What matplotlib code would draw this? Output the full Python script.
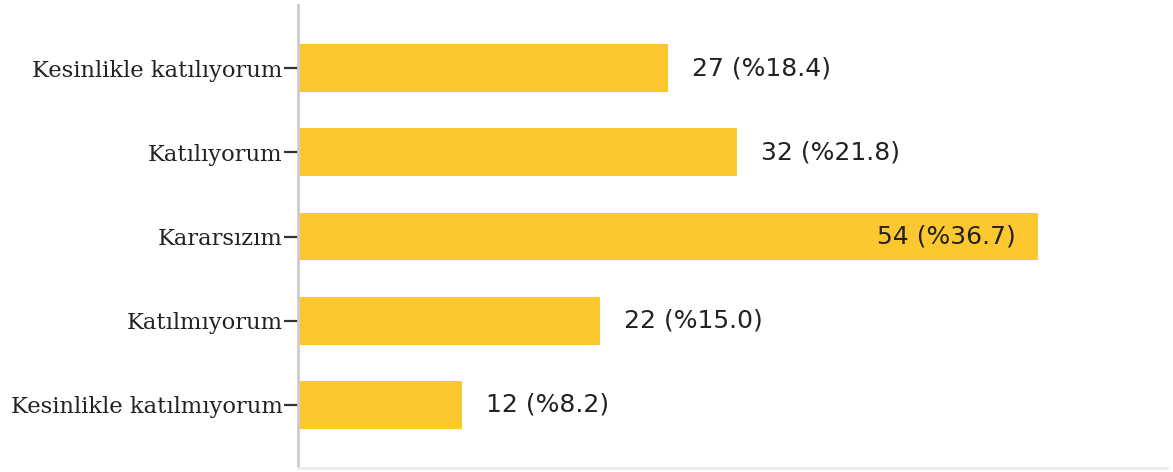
import matplotlib.pyplot as plt

categories = [
    "Kesinlikle katılıyorum",
    "Katılıyorum",
    "Kararsızım",
    "Katılmıyorum",
    "Kesinlikle katılmıyorum",
]
counts = [27, 32, 54, 22, 12]
percents = [18.4, 21.8, 36.7, 15.0, 8.2]

BAR_COLOR = "#fdc82f"

fig = plt.figure(figsize=(11.73, 4.72), dpi=100)
ax = fig.add_axes([298 / 1173, 4 / 472, (1167 - 298) / 1173, (468 - 5) / 472])

y = list(range(len(categories)))
ax.barh(y, counts, height=0.57, color=BAR_COLOR, left=0)
ax.set_ylim(4.75, -0.75)
ax.set_xlim(0, 63.4)

for i, (c, p) in enumerate(zip(counts, percents)):
    label = f"{c} (%{p:.1f})"
    if c == max(counts):
        ax.annotate(label, (c, i), xytext=(-22, 0), textcoords="offset pixels",
                    ha="right", va="center", fontsize=18, color="#222222",
                    family="DejaVu Sans")
    else:
        ax.annotate(label, (c, i), xytext=(24, 0), textcoords="offset pixels",
                    ha="left", va="center", fontsize=18, color="#222222",
                    family="DejaVu Sans")

ax.set_yticks(y)
ax.set_yticklabels(categories, family="DejaVu Serif", fontsize=16.3, color="#222222")
ax.tick_params(axis="y", length=10, width=1.6, color="#333333", pad=1)
ax.set_xticks([])

for side in ["top", "right"]:
    ax.spines[side].set_visible(False)
ax.spines["left"].set_color("#cccccc")
ax.spines["left"].set_linewidth(2)
ax.spines["bottom"].set_color("#eeeeee")
ax.spines["bottom"].set_linewidth(2)

fig.savefig("out.png", dpi=100)
